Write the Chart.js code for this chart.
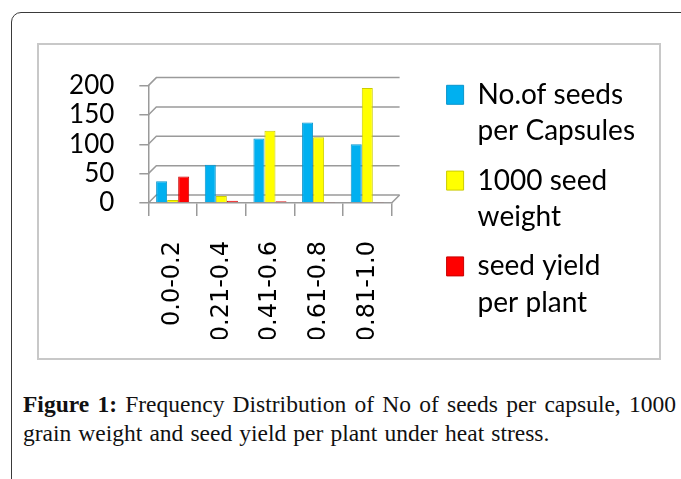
<!DOCTYPE html>
<html>
<head>
<meta charset="utf-8">
<script src="https://cdn.jsdelivr.net/npm/chart.js@4/dist/chart.umd.min.js"></script>
<style>
  body { margin:0; background:#fff; width:681px; height:479px; overflow:hidden; position:relative; }
  #marco { position:absolute; left:11px; top:12px; width:700px; height:520px; border:1px solid #3a3a3a; border-radius:10px; }
  #caja { position:absolute; left:37px; top:43px; width:620px; height:313px; border:2px solid #c8c8c8; background:#fff; }
  #caja canvas { display:block; }
  .pie { position:absolute; left:23px; width:653px; margin:0; font-family:"Liberation Serif", serif; font-size:23.5px; line-height:29px; color:#111; white-space:nowrap; }
  #pie1 { top:390px; text-align:justify; text-align-last:justify; }
  #pie2 { top:419px; word-spacing:1.2px; }
</style>
</head>
<body>
<div id="marco"></div>
<div id="caja"><canvas id="grafico" width="620" height="313"></canvas></div>
<div class="pie" id="pie1"><b>Figure 1:</b> Frequency Distribution of No of seeds per capsule, 1000</div>
<div class="pie" id="pie2">grain weight and seed yield per plant under heat stress.</div>

<script>
// rangos de frecuencia
var categorias = ["0.0-0.2", "0.21-0.4", "0.41-0.6", "0.61-0.8", "0.81-1.0"];

// series
var semillas_capsula = [37, 65, 110, 137, 100];
var peso_mil = [5, 12, 123, 112, 196];
var rendimiento = [45, 4, 3, 1, 1];

var etiquetas_y = [0, 50, 100, 150, 200];

var gris = "#9a9a9a";

// paredes y piso en falso 3D, a partir de la escala
var fondo3d = {
    id: "fondo3d",
    beforeDatasetsDraw: function (chart) {
        var ctx = chart.ctx, a = chart.chartArea, ey = chart.scales.y, d = 8;
        ctx.save();
        ctx.strokeStyle = gris;
        ctx.lineWidth = 1.5;
        etiquetas_y.forEach(function (v) {
            var py = ey.getPixelForValue(v);
            ctx.beginPath();
            ctx.moveTo(a.left, py);
            ctx.lineTo(a.left + d, py - d);
            ctx.lineTo(a.right + d, py - d);
            ctx.stroke();
        });
        var p0 = ey.getPixelForValue(0);
        ctx.beginPath();
        ctx.moveTo(a.right, p0);
        ctx.lineTo(a.right + d, p0 - d);
        ctx.stroke();
        ctx.restore();
    }
};

var datos = {
    labels: categorias,
    datasets: [{
        label: ["No.of seeds", "per Capsules"],
        data: semillas_capsula,
        backgroundColor: "#00b0f0",
        borderColor: "#0a95cc",
        borderWidth: 1
    }, {
        label: ["1000 seed", "weight"],
        data: peso_mil,
        backgroundColor: "#ffff00",
        borderColor: "#cccc00",
        borderWidth: 1
    }, {
        label: ["seed yield", "per plant"],
        data: rendimiento,
        backgroundColor: "#ff0000",
        borderColor: "#c80000",
        borderWidth: 1
    }]
};

var canvas = document.getElementById("grafico").getContext("2d");
window.bar = new Chart(canvas, {
    type: "bar",
    data: datos,
    plugins: [fondo3d],
    options: {
        responsive: false,
        animation: false,
        layout: { padding: { left: 10, top: 22, right: 14, bottom: 19 } },
        datasets: { bar: { categoryPercentage: 0.68, barPercentage: 1.0 } },
        scales: {
            x: {
                grid: { offset: true, drawOnChartArea: false, color: gris, lineWidth: 1.5, tickLength: 13 },
                border: { color: gris, width: 1.5 },
                ticks: {
                    maxRotation: 90, minRotation: 90, padding: 25, color: "#000",
                    font: { family: "'DejaVu Sans'", size: 24 }
                }
            },
            y: {
                min: 0, max: 200,
                afterBuildTicks: function (eje) {
                    eje.ticks = etiquetas_y.map(function (v) { return { value: v }; });
                },
                grid: { drawOnChartArea: false, color: gris, lineWidth: 1.5, tickLength: 9 },
                border: { color: gris, width: 1.5 },
                ticks: {
                    autoSkip: false, padding: 25, color: "#000",
                    font: { family: "Lato", size: 26 }
                }
            },
            // hueco entre el area y la leyenda
            hueco: {
                position: "right",
                grid: { display: false },
                border: { display: false },
                ticks: { display: false },
                afterFit: function (eje) { eje.width = 42; }
            }
        },
        plugins: {
            tooltip: { enabled: false },
            title: {
                display: true,
                text: "",
                font: { size: 10, lineHeight: 1 },
                padding: { top: 0, bottom: 7 }
            },
            legend: {
                position: "right",
                align: "center",
                maxWidth: 260,
                labels: {
                    color: "#000",
                    boxWidth: 17,
                    boxHeight: 19,
                    padding: 13,
                    font: { family: "Lato", size: 28, lineHeight: 1.3 }
                }
            }
        }
    }
});
</script>
</body>
</html>
